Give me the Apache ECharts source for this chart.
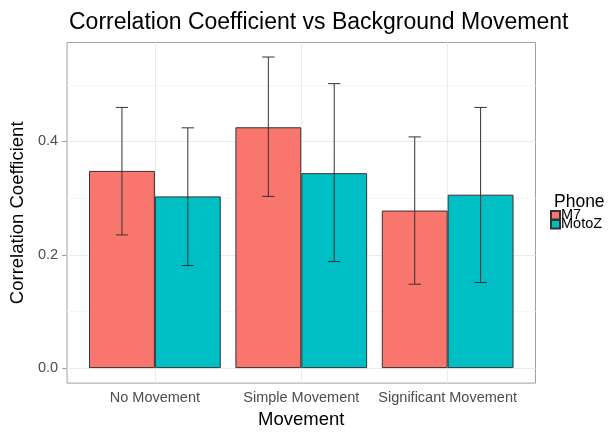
<!DOCTYPE html>
<html>
<head>
<meta charset="utf-8">
<script src="https://cdn.jsdelivr.net/npm/echarts@6/dist/echarts.min.js"></script>
<style>
html,body{margin:0;padding:0;background:#fff;}
#chart{width:610px;height:434px;}
</style>
</head>
<body>
<div id="chart"></div>
<script>
const categories = ['No Movement', 'Simple Movement', 'Significant Movement'];
const seriesNames = ['M7', 'MotoZ'];
const m7Values = [0.348, 0.425, 0.278];
const m7Lower = [0.235, 0.303, 0.148];
const m7Upper = [0.460, 0.549, 0.408];
const motoZValues = [0.303, 0.344, 0.306];
const motoZLower = [0.181, 0.188, 0.151];
const motoZUpper = [0.424, 0.502, 0.460];
const yTicks = [0, 0.2, 0.4];
const yMinorTicks = [0.1, 0.3, 0.5];
const xPositions = [1, 2, 3];

const FONT = 'Liberation Sans, Arial, sans-serif';
const colors = ['#F8766D', '#00BFC4'];
const dodge = 0.225;
const capHalf = 0.042;

const chart = echarts.init(document.getElementById('chart'), null, {renderer: 'canvas'});

function barData(vals) { return vals.map((v, i) => [xPositions[i], v]); }
function errData(lo, hi) { return lo.map((l, i) => [xPositions[i], l, hi[i]]); }

function errRender(offset) {
  return function (params, api) {
    const x = api.value(0) + offset;
    const lo = api.value(1), hi = api.value(2);
    const pLo = api.coord([x, lo]);
    const pHi = api.coord([x, hi]);
    const cL = api.coord([x - capHalf, hi]);
    const cR = api.coord([x + capHalf, hi]);
    const bL = api.coord([x - capHalf, lo]);
    const bR = api.coord([x + capHalf, lo]);
    const style = {stroke: '#333', lineWidth: 1, fill: null};
    return {
      type: 'group',
      children: [
        {type: 'line', shape: {x1: pLo[0], y1: pLo[1], x2: pHi[0], y2: pHi[1]}, style: style},
        {type: 'line', shape: {x1: cL[0], y1: cL[1], x2: cR[0], y2: cR[1]}, style: style},
        {type: 'line', shape: {x1: bL[0], y1: bL[1], x2: bR[0], y2: bR[1]}, style: style}
      ]
    };
  };
}

const gridLines = []
  .concat(yMinorTicks.map(v => ({yAxis: v, lineStyle: {color: '#f5f5f5', width: 1, type: 'solid'}})))
  .concat(yTicks.map(v => ({yAxis: v, lineStyle: {color: '#ebebeb', width: 1, type: 'solid'}})))
  .concat(xPositions.map(v => ({xAxis: v, lineStyle: {color: '#ebebeb', width: 1, type: 'solid'}})));

const option = {
  backgroundColor: '#ffffff',
  animation: false,
  textStyle: {fontFamily: FONT},
  title: [
    {text: 'Correlation Coefficient vs Background Movement', left: 64, top: 6,
     textStyle: {fontSize: 23, fontWeight: 'normal', color: '#000', fontFamily: FONT}},
    {text: 'Phone', left: 549, top: 188.5,
     textStyle: {fontSize: 17.5, fontWeight: 'normal', color: '#000', fontFamily: FONT}}
  ],
  legend: {
    data: seriesNames,
    orient: 'vertical',
    left: 550, top: 207.8,
    padding: 0,
    itemGap: -6,
    itemWidth: 9,
    itemHeight: 8.5,
    icon: 'rect',
    textStyle: {fontSize: 14.5, color: '#000', fontFamily: FONT, padding: [0, 0, 0, -4]}
  },
  grid: {
    left: 65.5, top: 42.5, width: 470, height: 345,
    show: true, borderColor: '#a0a0a0', borderWidth: 1, backgroundColor: 'transparent',
    containLabel: false
  },
  xAxis: {
    type: 'value', min: 0.4, max: 3.6,
    name: 'Movement', nameLocation: 'middle', nameGap: 19,
    nameTextStyle: {fontSize: 18.5, color: '#000', fontFamily: FONT},
    axisLine: {show: false},
    axisTick: {show: true, length: 5, customValues: xPositions, lineStyle: {color: '#a0a0a0'}},
    axisLabel: {show: true, customValues: xPositions, margin: 7, fontSize: 14.5, color: '#4d4d4d', fontFamily: FONT,
      formatter: v => categories[Math.round(v) - 1] || ''},
    splitLine: {show: false}
  },
  yAxis: {
    type: 'value', min: -0.0265, max: 0.5746,
    name: 'Correlation Coefficient', nameLocation: 'middle', nameGap: 36,
    nameTextStyle: {fontSize: 18.5, color: '#000', fontFamily: FONT},
    axisLine: {show: false},
    axisTick: {show: true, length: 5, customValues: yTicks, lineStyle: {color: '#a0a0a0'}},
    axisLabel: {show: true, customValues: yTicks, margin: 9, fontSize: 14.5, color: '#4d4d4d', fontFamily: FONT,
      formatter: v => Number(v).toFixed(1)},
    splitLine: {show: false}
  },
  series: [
    {
      name: 'gridlines', type: 'line', data: [], silent: true, z: 0,
      markLine: {silent: true, symbol: ['none', 'none'], z: 1, label: {show: false}, animation: false, data: gridLines}
    },
    {
      name: 'M7', type: 'bar', data: barData(m7Values), barWidth: '45%', barGap: '0%', z: 2,
      itemStyle: {color: colors[0], borderColor: '#333', borderWidth: 1}
    },
    {
      name: 'MotoZ', type: 'bar', data: barData(motoZValues), barWidth: '45%', barGap: '0%', z: 2,
      itemStyle: {color: colors[1], borderColor: '#333', borderWidth: 1}
    },
    {
      name: 'M7 error', type: 'custom', data: errData(m7Lower, m7Upper), z: 3, silent: true,
      renderItem: errRender(-dodge), encode: {x: 0, y: [1, 2]}
    },
    {
      name: 'MotoZ error', type: 'custom', data: errData(motoZLower, motoZUpper), z: 3, silent: true,
      renderItem: errRender(dodge), encode: {x: 0, y: [1, 2]}
    }
  ]
};
chart.setOption(option);
</script>
</body>
</html>
